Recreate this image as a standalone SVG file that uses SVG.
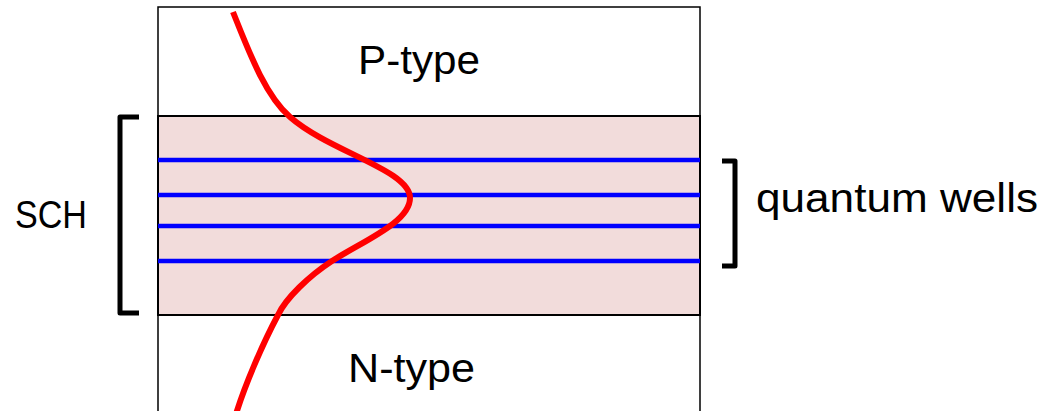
<svg xmlns="http://www.w3.org/2000/svg" width="1057" height="411" viewBox="0 0 1057 411">
  <style>
    .frame { fill: none; stroke: #000; stroke-width: 1.5; }
    .sch { fill: #f2dcdb; stroke: #000; stroke-width: 2; }
    .well { stroke: #0000ff; stroke-width: 4.5; }
    .bracket { fill: none; stroke: #000; stroke-width: 5; stroke-linejoin: round; }
    .mode { fill: none; stroke: #ff0000; stroke-width: 6; }
    .label { font-family: "Liberation Sans", Arial, sans-serif; font-size: 41px; fill: #000; }
  </style>
  <rect width="1057" height="411" fill="#fff"/>

  <!-- device stack outline (open at the bottom edge) -->
  <g id="stack">
    <path class="frame" d="M158,420 V7 H700 V420"/>
  </g>

  <!-- separate-confinement heterostructure region -->
  <g id="sch-region">
    <rect class="sch" x="158" y="116" width="542" height="199"/>
  </g>

  <!-- quantum well layers -->
  <g id="wells">
    <line class="well" x1="158" y1="160" x2="700" y2="160"/>
    <line class="well" x1="158" y1="195" x2="700" y2="195"/>
    <line class="well" x1="158" y1="226" x2="700" y2="226"/>
    <line class="well" x1="158" y1="261" x2="700" y2="261"/>
  </g>

  <!-- brackets -->
  <g id="connectors">
    <path class="bracket" d="M139,117 H120 V313 H139"/>
    <path class="bracket" d="M722,161 H735 V266 H722"/>
  </g>

  <!-- optical mode profile -->
  <g id="mode-profile">
    <path class="mode" d="M233,12 C249,52 265,95 290,117 C330,152 410,170 410,198 C410,222 365,240 332,261 C309,276 286,298 278,315 C262,345 245,385 236,414"/>
  </g>

  <g id="p-type"><text class="label" x="358" y="74" textLength="122" lengthAdjust="spacingAndGlyphs">P-type</text></g>
  <g id="n-type"><text class="label" x="348" y="382" textLength="127" lengthAdjust="spacingAndGlyphs">N-type</text></g>
  <g id="sch-label"><text class="label" x="15" y="228" style="font-size:38px" textLength="72" lengthAdjust="spacingAndGlyphs">SCH</text></g>
  <g id="qw-label"><text class="label" x="756" y="212" textLength="282" lengthAdjust="spacingAndGlyphs">quantum wells</text></g>
</svg>
